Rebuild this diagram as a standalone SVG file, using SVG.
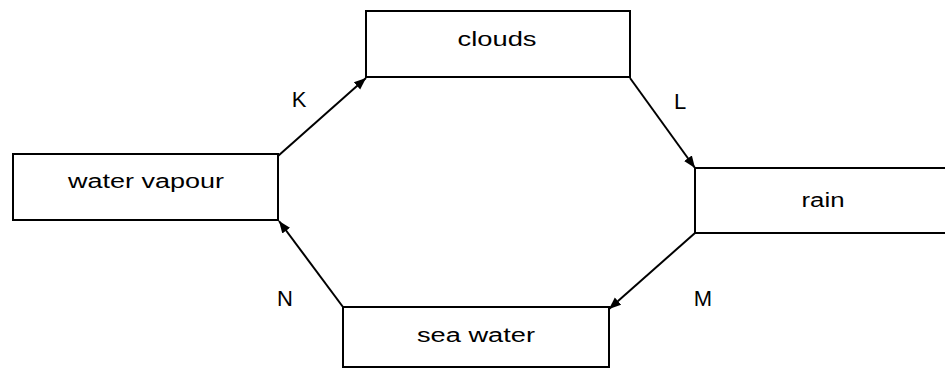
<svg xmlns="http://www.w3.org/2000/svg" width="945" height="373" viewBox="0 0 945 373">
<style>
.box{fill:#fff;stroke:#000;stroke-width:2}
.t{font-family:"Liberation Sans",Arial,sans-serif;font-size:20px;fill:#000;text-anchor:middle}
.lbl{font-family:"Liberation Sans",Arial,sans-serif;font-size:22px;fill:#000;text-anchor:middle}
.c{stroke:#000;stroke-width:2;fill:none;marker-end:url(#ah)}
</style>
<defs>
<marker id="ah" viewBox="0 0 10 10" refX="10" refY="5" markerWidth="6" markerHeight="6" orient="auto" markerUnits="strokeWidth">
<path d="M0,1 L10,5 L0,9 Z" fill="#000"/>
</marker>
</defs>
<rect width="945" height="373" fill="#fff"/>
<g id="clouds"><rect class="box" x="366" y="11" width="264" height="66"/><text class="t" x="497" y="46" textLength="79" lengthAdjust="spacingAndGlyphs">clouds</text></g>
<g id="water-vapour"><rect class="box" x="13" y="154" width="265" height="66"/><text class="t" x="146" y="188" textLength="156" lengthAdjust="spacingAndGlyphs">water vapour</text></g>
<g id="rain"><rect class="box" x="695" y="168" width="260" height="65"/><text class="t" x="823" y="207" textLength="43" lengthAdjust="spacingAndGlyphs">rain</text></g>
<g id="sea-water"><rect class="box" x="343" y="307" width="266" height="60"/><text class="t" x="476" y="342" textLength="118" lengthAdjust="spacingAndGlyphs">sea water</text></g>
<g id="connectors">
<line class="c" x1="278" y1="156" x2="366" y2="78"/>
<line class="c" x1="630" y1="78" x2="695" y2="168"/>
<line class="c" x1="695" y1="233" x2="609" y2="309"/>
<line class="c" x1="343" y1="307" x2="279" y2="221"/>
<text class="lbl" x="299" y="107">K</text>
<text class="lbl" x="680" y="109">L</text>
<text class="lbl" x="703" y="306">M</text>
<text class="lbl" x="285" y="306">N</text>
</g>
</svg>
